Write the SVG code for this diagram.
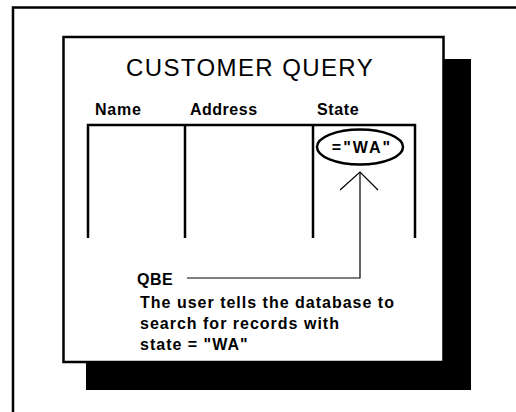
<svg xmlns="http://www.w3.org/2000/svg" width="516" height="412" viewBox="0 0 516 412">
<style>
.frame{stroke:#000;stroke-width:2.5;fill:none}
.thick{stroke:#000;stroke-width:2.5;fill:none}
.thin{stroke:#000;stroke-width:1.2;fill:none}
.b{font-family:"Liberation Sans",Arial,sans-serif;font-weight:bold;font-size:16px;fill:#000}
.desc{letter-spacing:1px}
.title{font-family:"Liberation Sans",Arial,sans-serif;font-size:24px;fill:#000;letter-spacing:1.4px}
</style>
<rect width="516" height="412" fill="#fff"/>
<g id="outer-frame">
<path class="frame" d="M13 412 V7.5 H516"/>
</g>
<g id="card">
<rect x="86" y="59" width="385" height="331" fill="#000"/>
<rect x="63.5" y="37" width="380" height="325" fill="#fff" stroke="#000" stroke-width="2.5"/>
<text class="title" x="126" y="76">CUSTOMER QUERY</text>
</g>
<g id="table">
<text class="b" x="95" y="115" letter-spacing="0.8">Name</text>
<text class="b" x="190" y="115" letter-spacing="0.5">Address</text>
<text class="b" x="317" y="115" letter-spacing="0.6">State</text>
<path class="thick" d="M88 238 V125 H415 V238 M185 125 V238 M313 125 V238"/>
</g>
<g id="criterion">
<ellipse cx="360" cy="147" rx="43" ry="17.5" fill="none" stroke="#000" stroke-width="2.5"/>
<text class="b" x="362" y="153" text-anchor="middle" font-size="17" letter-spacing="2">="WA"</text>
</g>
<g id="qbe-label">
<text class="b" x="137" y="285" letter-spacing="0.5">QBE</text>
<text class="b desc" x="140" y="308">The user tells the database to</text>
<text class="b desc" x="140" y="329">search for records with</text>
<text class="b desc" x="140" y="350">state = "WA"</text>
</g>
<g id="connectors">
<path class="thin" d="M187 278 H360 V172"/>
<path class="thin" d="M340 190 L360 172 L378 190"/>
</g>
</svg>
